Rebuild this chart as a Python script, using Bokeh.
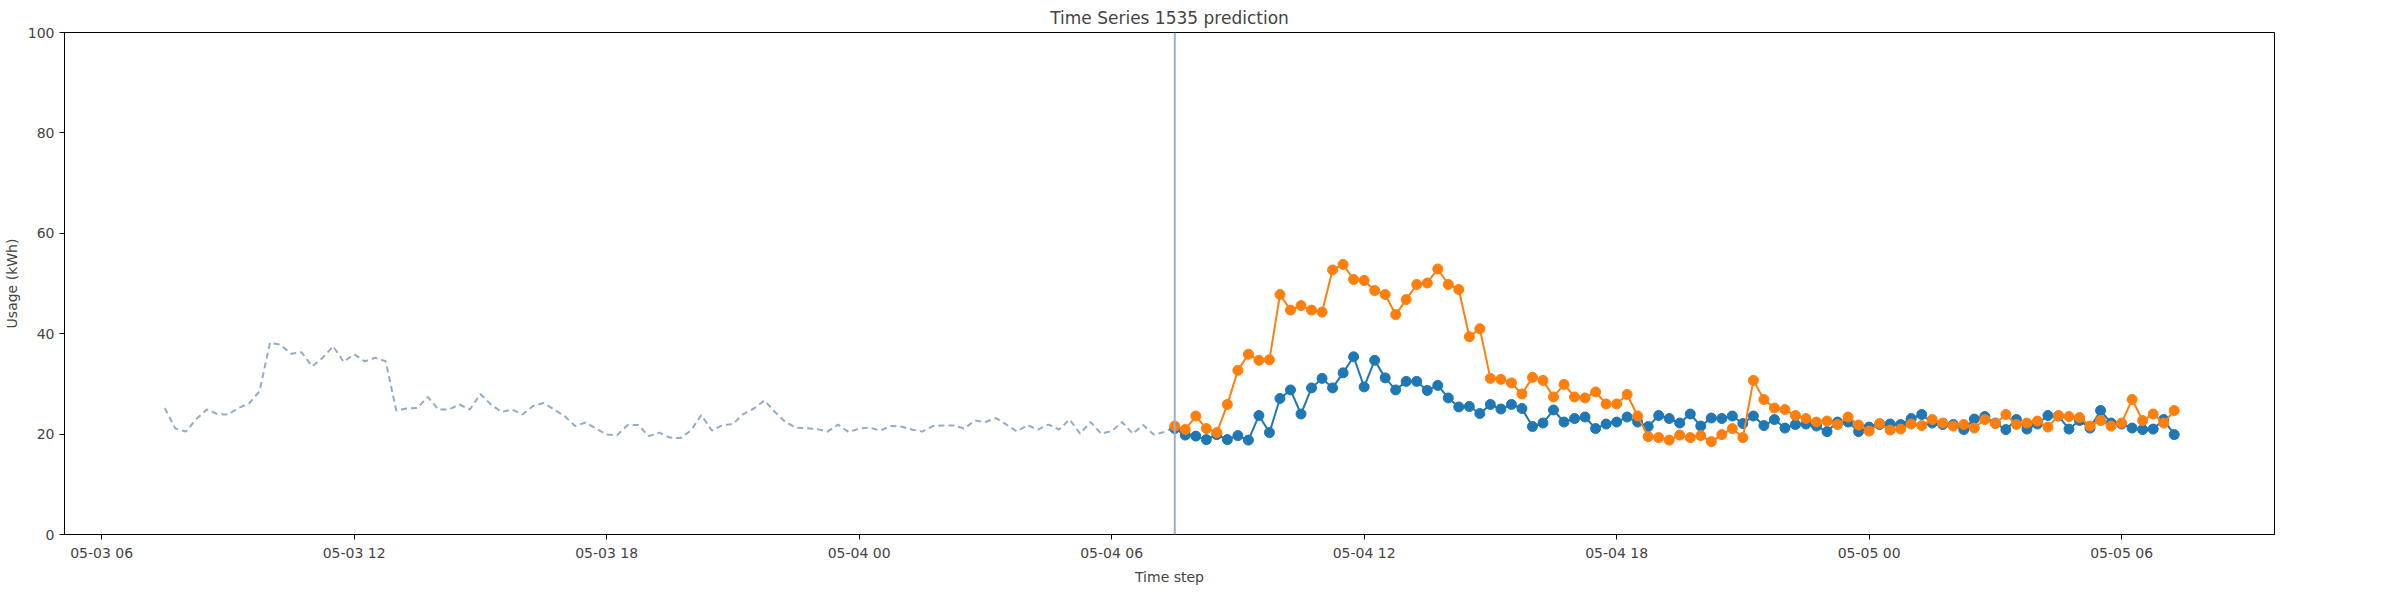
import pandas as pd
from bokeh.embed import file_html
from bokeh.models import (ColumnDataSource, DatetimeTickFormatter, FixedTicker,
                          Legend, LegendItem, Span, Range1d)
from bokeh.plotting import figure
from bokeh.resources import INLINE

# history (15-minute steps) starting 05-03 07:30
history = [
    25.2, 21.1, 20.5, 23.0, 24.9, 24.0, 23.9, 25.2, 26.1, 28.5, 38.2, 37.8,
    36.0, 36.3, 33.5, 35.2, 37.5, 34.4, 35.9, 34.5, 35.2, 34.5, 24.7, 25.1,
    25.2, 27.4, 24.9, 24.9, 25.9, 24.9, 28.0, 25.9, 24.4, 24.9, 23.9, 25.6,
    26.2, 24.9, 23.6, 21.6, 22.3, 21.1, 19.9, 19.8, 21.8, 21.8, 19.6, 20.3,
    19.3, 19.2, 20.7, 23.8, 20.7, 21.8, 22.0, 24.0, 25.1, 26.7, 24.4, 22.4,
    21.3, 21.2, 21.0, 20.5, 21.9, 20.4, 21.1, 21.3, 20.7, 21.6, 21.5, 20.9,
    20.5, 21.6, 21.7, 21.7, 21.1, 22.7, 22.4, 23.2, 21.9, 20.5, 21.8, 20.9,
    21.9, 20.9, 22.9, 20.1, 22.4, 20.1, 20.6, 22.4, 20.1, 21.8, 19.9, 20.4,
    21.4,
]

# forecast window starting 05-04 07:30
predict = [
    21.1, 19.8, 19.6, 18.9, 19.9, 18.9, 19.7, 18.8, 23.7, 20.3, 27.1, 28.8,
    24.0, 29.2, 31.1, 29.2, 32.2, 35.4, 29.4, 34.7, 31.2, 28.8, 30.5, 30.5,
    28.7, 29.7, 27.2, 25.4, 25.5, 24.1, 25.9, 25.0, 25.9, 25.1, 21.5, 22.2,
    24.8, 22.4, 23.1, 23.4, 21.1, 22.0, 22.4, 23.4, 22.4, 21.5, 23.7, 23.1,
    22.2, 24.0, 21.6, 23.2, 23.1, 23.6, 22.1, 23.6, 21.7, 22.9, 21.2, 21.9,
    22.0, 21.6, 20.5, 22.4, 22.4, 20.5, 21.4, 21.9, 22.0, 21.9, 23.1, 23.9,
    22.2, 21.9, 21.9, 20.9, 23.0, 23.5, 22.2, 20.9, 22.9, 21.0, 22.0, 23.7,
    23.6, 21.0, 22.7, 21.2, 24.7, 22.2, 22.0, 21.2, 20.9, 21.0, 22.9, 19.9,
]

actual = [
    21.6, 20.9, 23.6, 21.1, 20.3, 25.9, 32.7, 35.9, 34.7, 34.8, 47.8, 44.7,
    45.6, 44.7, 44.3, 52.7, 53.8, 50.8, 50.6, 48.6, 47.8, 43.8, 46.8, 49.8,
    50.1, 52.9, 49.8, 48.8, 39.4, 41.0, 31.1, 30.9, 30.2, 28.0, 31.3, 30.7,
    27.4, 29.9, 27.4, 27.2, 28.4, 26.0, 26.0, 27.9, 23.6, 19.5, 19.3, 18.8,
    19.8, 19.3, 19.7, 18.5, 19.9, 21.1, 19.3, 30.7, 26.9, 25.2, 24.9, 23.7,
    23.1, 22.4, 22.6, 21.9, 23.4, 21.8, 20.6, 22.1, 20.8, 21.0, 22.0, 21.7,
    22.9, 22.2, 21.6, 21.9, 21.2, 22.9, 22.1, 23.9, 21.9, 22.2, 22.6, 21.4,
    23.7, 23.5, 23.3, 21.6, 22.7, 21.6, 22.2, 26.9, 22.7, 24.0, 22.2, 24.7,
]

hist_time = pd.date_range("2024-05-03 07:30", periods=len(history), freq="15min")
pred_time = pd.date_range("2024-05-04 07:30", periods=len(predict), freq="15min")
tick_times = pd.date_range("2024-05-03 06:00", "2024-05-05 06:00", freq="6h")

FONT = "DejaVu Sans"
BLUE = "#1f77b4"
ORANGE = "#ff7f0e"
FRAME_W, FRAME_H = 2210, 502

p = figure(
    frame_width=FRAME_W, frame_height=FRAME_H, x_axis_type="datetime",
    title="Time Series 1535 prediction", toolbar_location=None,
    output_backend="svg", min_border_left=62, min_border_right=112,
    min_border_top=30, min_border_bottom=10,
    x_axis_label="Time step", y_axis_label="Usage (kWh)",
)
p.x_range = Range1d(pd.Timestamp("2024-05-03 05:07"), pd.Timestamp("2024-05-05 09:38"))
p.y_range = Range1d(0, 100)

hsrc = ColumnDataSource(dict(t=hist_time, v=history))
psrc = ColumnDataSource(dict(t=pred_time, pr=predict, ac=actual))

p.line("t", "v", source=hsrc, line_color="#95abc6", line_width=2, line_dash="6 4")
p.add_layout(Span(location=pred_time[0], dimension="height",
                  line_color="#a0acd0", line_width=2))
pl = p.line("t", "pr", source=psrc, line_color=BLUE, line_width=2)
p.scatter("t", "pr", source=psrc, size=10, color=BLUE)
al = p.line("t", "ac", source=psrc, line_color=ORANGE, line_width=2)
p.scatter("t", "ac", source=psrc, size=10, color=ORANGE)

legend = Legend(items=[LegendItem(label="Predict", renderers=[pl]),
                       LegendItem(label="Actual", renderers=[al])],
                location=(FRAME_W + 6, FRAME_H - 52), label_text_font=FONT,
                label_text_font_size="14px", border_line_color="#cccccc",
                glyph_width=30, label_height=14, glyph_height=14,
                spacing=4, padding=7, margin=0)
p.add_layout(legend)

p.title.align = "center"
p.title.text_font = FONT
p.title.text_font_size = "17px"
p.title.text_font_style = "normal"

p.xaxis.ticker = FixedTicker(ticks=[t.value / 1e6 for t in tick_times])
p.xaxis.formatter = DatetimeTickFormatter(hours="%m-%d %H", days="%m-%d %H",
                                          minutes="%m-%d %H")
p.yaxis.ticker = FixedTicker(ticks=[0, 20, 40, 60, 80, 100])
for ax in (p.xaxis, p.yaxis):
    ax.major_label_text_font = FONT
    ax.major_label_text_font_size = "14px"
    ax.axis_label_text_font = FONT
    ax.axis_label_text_font_size = "14px"
    ax.axis_label_text_font_style = "normal"
    ax.minor_tick_line_color = None
    ax.major_tick_in = 0
    ax.major_tick_out = 5
    ax.axis_line_color = "black"
p.grid.visible = False
p.outline_line_color = "black"
p.outline_line_alpha = 1

open("out.html", "w").write(file_html(p, INLINE))
